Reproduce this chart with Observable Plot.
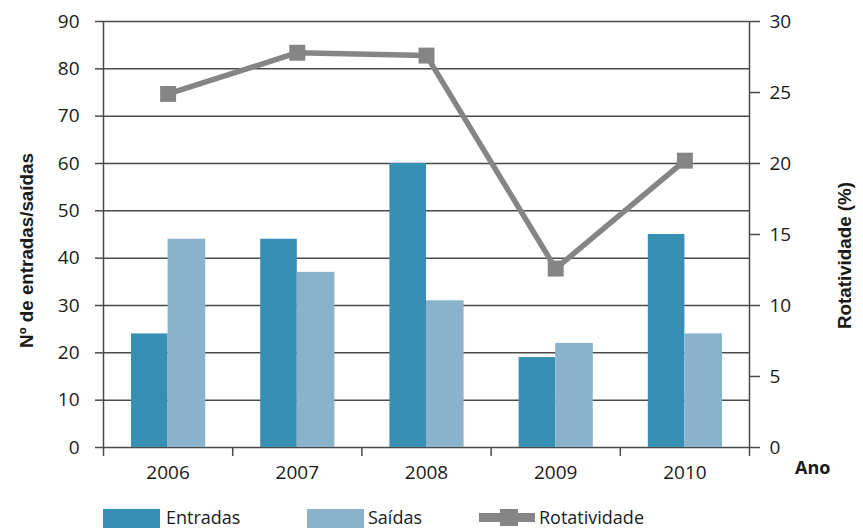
<!DOCTYPE html>
<html>
<head>
<meta charset="utf-8">
<script src="https://cdn.jsdelivr.net/npm/d3@7"></script>
<script src="https://cdn.jsdelivr.net/npm/@observablehq/plot@0.6"></script>
<style>
  body { margin: 0; background: #fff; }
  #chart { position: relative; width: 863px; height: 528px; overflow: hidden; font-family: "Open Sans", sans-serif; color: #1a1a1a; }
  #chart svg { display: block; overflow: visible; }
  .legend { position: absolute; top: 0; left: 0; width: 863px; height: 528px; font-size: 18px; pointer-events: none; }
  .txt { position: absolute; top: 508px; line-height: 19px; white-space: nowrap; }
  .sw { position: absolute; top: 509px; width: 57px; height: 19px; }
  .lsw { position: absolute; top: 509px; width: 56px; height: 17px; }
  .lsw .ln { position: absolute; left: 0; right: 0; top: 4px; height: 9px; background: #858585; }
  .lsw .sq { position: absolute; left: 21px; top: 0; width: 18px; height: 17px; background: #858585; }
</style>
</head>
<body>
<div id="chart"></div>
<script>
// Entradas, saídas e rotatividade de pessoal, 2006–2010
const years = [2006, 2007, 2008, 2009, 2010];
const entradas = [24, 44, 60, 19, 45];
const saidas = [44, 37, 31, 22, 24];
const rotatividade = [24.9, 27.8, 27.6, 12.6, 20.2];

const leftTicks = d3.range(0, 91, 10);
const rightTicks = d3.range(0, 31, 5);
const k = 90 / 30; // right-axis (%) to left-axis units

const colEntradas = "#3790b3";
const colSaidas = "#8ab3cb";
const colRot = "#858585";
const gridCol = "#4a4a4a";
const titleFont = "Liberation Sans, Arial, sans-serif";
const tickFont = 19;

const rows = years.map((year, i) => ({ year, entradas: entradas[i], saidas: saidas[i], rot: rotatividade[i] }));
const bounds = [years[0] - 0.5, ...years.map(y => y + 0.5)];

const plot = Plot.plot({
  width: 863,
  height: 490,
  marginTop: 21,
  marginBottom: 43,
  marginLeft: 103,
  marginRight: 114,
  style: { fontFamily: "Open Sans, sans-serif", fontSize: "18px", color: "#1a1a1a", background: "#fff" },
  x: { type: "linear", domain: [bounds[0], bounds[bounds.length - 1]] },
  y: { domain: [0, 90] },
  marks: [
    // horizontal grid
    Plot.ruleY(leftTicks, { stroke: gridCol, strokeWidth: 1.5 }),
    // bars
    Plot.rectY(rows, { x1: d => d.year - 0.5, x2: d => d.year, y1: 0, y2: "entradas", insetLeft: 28, fill: colEntradas }),
    Plot.rectY(rows, { x1: d => d.year, x2: d => d.year + 0.5, y1: 0, y2: "saidas", insetRight: 27, fill: colSaidas }),
    // vertical axis lines
    Plot.ruleX([bounds[0], bounds[bounds.length - 1]], { y1: 0, y2: 90, stroke: gridCol, strokeWidth: 1.5 }),
    // left axis
    Plot.axisY(leftTicks, { anchor: "left", tickSize: 8, tickPadding: 16, label: null, stroke: gridCol, strokeWidth: 1.5, fontSize: tickFont }),
    // right axis (%)
    Plot.axisY(rightTicks.map(v => v * k), { anchor: "right", tickSize: 10, tickPadding: 10, tickFormat: d => d / k, label: null, stroke: gridCol, strokeWidth: 1.5, fontSize: tickFont }),
    // category boundary ticks
    Plot.axisX(bounds, { anchor: "bottom", tickSize: 9, tickFormat: () => "", label: null, stroke: gridCol, strokeWidth: 1.5 }),
    // year labels
    Plot.axisX(years, { anchor: "bottom", tickSize: 0, tickPadding: 18, tickFormat: d => String(d), label: null, fontSize: tickFont }),
    // rotatividade line
    Plot.line(rows, { x: "year", y: d => d.rot * k, stroke: colRot, strokeWidth: 5.5 }),
    Plot.dot(rows, { x: "year", y: d => d.rot * k, symbol: "square", r: 9, fill: colRot, stroke: "none" }),
    // axis titles
    Plot.text(["Nº de entradas/saídas"], { frameAnchor: "left", textAnchor: "middle", rotate: -90, dx: -77, dy: 16, fontWeight: "bold", fontSize: 18.8, fontFamily: titleFont }),
    Plot.text(["Rotatividade (%)"], { frameAnchor: "right", textAnchor: "middle", rotate: -90, dx: 95, dy: 21, fontWeight: "bold", fontSize: 18.8, fontFamily: titleFont }),
    Plot.text(["Ano"], { frameAnchor: "bottom-right", dx: 81, dy: 26, fontWeight: "bold", fontSize: 18 })
  ]
});

const chart = document.getElementById("chart");
chart.appendChild(plot);

// legend
const legend = document.createElement("div");
legend.className = "legend";
legend.innerHTML = `
  <div class="sw" style="left:103px;background:${colEntradas}"></div><div class="txt" style="left:166px">Entradas</div>
  <div class="sw" style="left:307px;background:${colSaidas}"></div><div class="txt" style="left:368px">Saídas</div>
  <div class="lsw" style="left:479px"><div class="ln"></div><div class="sq"></div></div><div class="txt" style="left:539px">Rotatividade</div>`;
chart.appendChild(legend);
</script>
</body>
</html>
